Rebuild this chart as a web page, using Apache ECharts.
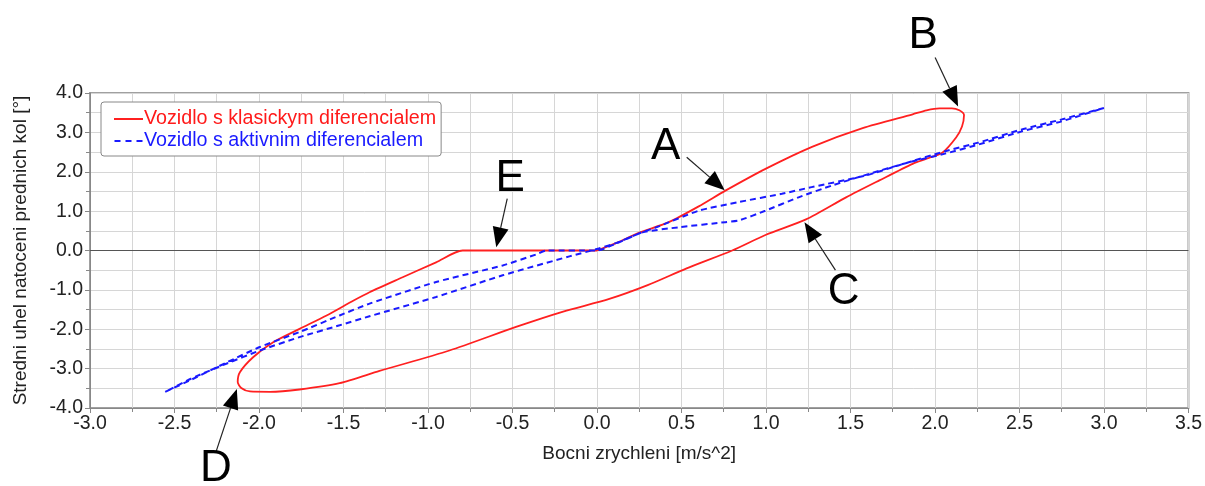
<!DOCTYPE html>
<html>
<head>
<meta charset="utf-8">
<script src="https://cdn.jsdelivr.net/npm/echarts@6/dist/echarts.min.js"></script>
<style>html,body{margin:0;padding:0;background:#fff;}#c{width:1205px;height:486px;}</style>
</head>
<body>
<div id="c"></div>
<script>
// ---- data ----
const seriesNames = ['Vozidlo s klasickym diferencialem', 'Vozidlo s aktivnim diferencialem'];
const xTitle = 'Bocni zrychleni [m/s^2]';
const yTitle = 'Stredni uhel natoceni prednich kol [°]';

const klasicky = [
  [0,0],[0.12,0.2],[0.248,0.45],[0.425,0.72],[0.602,1.12],[0.76,1.52],[1.0,2.08],[1.276,2.64],
  [1.572,3.11],[1.868,3.46],[1.95,3.56],[2.026,3.61],[2.1,3.61],[2.144,3.56],[2.172,3.44],
  [2.16,3.15],[2.125,2.87],[2.045,2.49],[1.95,2.33],[1.868,2.2],[1.671,1.78],[1.474,1.35],
  [1.237,0.79],[1.0,0.4],[0.80,0.0],[0.527,-0.46],[0.3,-0.88],[0.073,-1.23],[-0.2,-1.55],
  [-0.479,-1.94],[-0.873,-2.54],[-1.287,-3.06],[-1.523,-3.37],[-1.76,-3.53],[-1.935,-3.59],
  [-2.053,-3.58],[-2.105,-3.49],[-2.126,-3.34],[-2.113,-3.09],[-2.035,-2.71],[-1.916,-2.33],
  [-1.76,-1.99],[-1.6,-1.65],[-1.44,-1.27],[-1.346,-1.06],[-1.15,-0.68],[-0.952,-0.30],
  [-0.795,0],[-0.4,0],[0,0]
];

const aktivni = [
  [-2.555,-3.59],[-2.4,-3.28],[-2.19,-2.84],[-1.995,-2.45],[-1.76,-2.07],[-1.523,-1.65],
  [-1.346,-1.35],[-0.952,-0.80],[-0.558,-0.38],[-0.36,-0.1],[-0.3,0],[0,0],
  [0.12,0.19],[0.27,0.47],[0.346,0.58],[0.602,1.01],[0.838,1.23],[1.094,1.44],[1.27,1.61],
  [1.586,1.90],[1.783,2.16],[2.06,2.52],[2.257,2.74],[2.51,3.07],[2.75,3.33],[3.0,3.62],
  [2.75,3.28],[2.51,3.02],[2.257,2.69],[2.06,2.46],[1.864,2.26],[1.667,2.02],[1.39,1.65],
  [1.193,1.35],[0.996,1.01],[0.838,0.76],[0.76,0.72],[0.484,0.59],[0.27,0.46],[0.12,0.2],
  [0.01,0.05],[-0.163,-0.15],[-0.558,-0.63],[-0.952,-1.18],[-1.346,-1.67],[-1.523,-1.90],
  [-1.76,-2.2],[-1.995,-2.54],[-2.19,-2.87],[-2.4,-3.25],[-2.555,-3.59]
];

// annotations: letter, letter position, arrow tail, arrow tip (data coords)
const annoLetters = ['A','B','C','D','E'];
const annoLetterPos = [[0.407,2.64],[1.930,5.45],[1.459,-1.06],[-2.255,-5.55],[-0.514,1.83]];
const annoTail = [[0.531,2.37],[2.001,4.90],[1.411,-0.5],[-2.255,-5.12],[-0.531,1.32]];
const annoTip = [[0.756,1.53],[2.137,3.66],[1.228,0.72],[-2.131,-3.52],[-0.596,0.08]];

const FONT = '"Liberation Sans", Arial, sans-serif';
const chart = echarts.init(document.getElementById('c'), null, {renderer:'canvas'});

const option = {
  animation: false,
  backgroundColor: '#fff',
  grid: {left: 90, top: 93, right: 14, bottom: 78, show: true, borderColor: '#a0a0a0', borderWidth: 2, backgroundColor: 'transparent'},
  legend: {
    orient: 'vertical', left: 101, top: 102,
    backgroundColor: '#fff', borderColor: '#888', borderWidth: 1, borderRadius: 3,
    padding: [7, 5, 5, 13], itemGap: 2, itemWidth: 29, itemHeight: 2,
    data: [
      {name: seriesNames[0], icon: 'path://M0,0 H29 V2 H0 Z', textStyle: {color: '#ff1a1a'}},
      {name: seriesNames[1], icon: 'path://M0,0 H6 V2 H0 Z M11,0 H17 V2 H11 Z M22,0 H28 V2 H22 Z', textStyle: {color: '#1a1aff'}}
    ],
    textStyle: {fontFamily: FONT, fontSize: 19.7, padding: [0,0,0,-4]}
  },
  xAxis: {
    type: 'value', min: -3, max: 3.5, interval: 0.5,
    name: xTitle, nameLocation: 'middle', nameGap: 36,
    nameTextStyle: {fontFamily: FONT, fontSize: 19, color: '#222'},
    axisLine: {show: true, onZero: false, lineStyle: {color: '#888', width: 1}},
    axisTick: {show: true, length: 5, lineStyle: {color: '#888'}},
    minorTick: {show: true, splitNumber: 2, length: 4, lineStyle: {color: '#888'}},
    splitLine: {show: true, lineStyle: {color: '#d6d6d6', width: 1}},
    minorSplitLine: {show: true, lineStyle: {color: '#d6d6d6', width: 1}},
    axisLabel: {fontFamily: FONT, fontSize: 19.5, color: '#222', margin: 6, formatter: v => v.toFixed(1)}
  },
  yAxis: {
    type: 'value', min: -4, max: 4, interval: 1,
    name: yTitle, nameLocation: 'middle', nameGap: 60, nameRotate: 90,
    nameTextStyle: {fontFamily: FONT, fontSize: 19, color: '#222'},
    axisLine: {show: true, onZero: false, lineStyle: {color: '#888', width: 1}},
    axisTick: {show: true, length: 5, lineStyle: {color: '#888'}},
    minorTick: {show: true, splitNumber: 2, length: 4, lineStyle: {color: '#888'}},
    splitLine: {show: true, lineStyle: {color: '#d6d6d6', width: 1}},
    minorSplitLine: {show: true, lineStyle: {color: '#d6d6d6', width: 1}},
    axisLabel: {fontFamily: FONT, fontSize: 19.5, color: '#222', margin: 7, formatter: v => v.toFixed(1)}
  },
  series: [
    {
      name: 'zero', type: 'line', data: [], z: 1, silent: true,
      markLine: {silent: true, z: 1, symbol: 'none', label: {show: false},
        lineStyle: {color: '#555', width: 1, type: 'solid'}, data: [{yAxis: 0}]}
    },
    {
      name: seriesNames[0], type: 'line', data: klasicky, showSymbol: false, symbol: 'none',
      smooth: 0.25, z: 3,
      lineStyle: {color: '#ff2020', width: 1.8}, itemStyle: {color: '#ff2020'}
    },
    {
      name: seriesNames[1], type: 'line', data: aktivni, showSymbol: false, symbol: 'none',
      smooth: 0.2, z: 4,
      lineStyle: {color: '#1a1aff', width: 2, type: [6, 4]}, itemStyle: {color: '#1a1aff'}
    }
  ]
};
chart.setOption(option);

// annotations (letters + arrows) positioned from data coordinates
const g = [];
for (let i = 0; i < annoLetters.length; i++) {
  const lp = chart.convertToPixel({gridIndex: 0}, annoLetterPos[i]);
  const s = chart.convertToPixel({gridIndex: 0}, annoTail[i]);
  const t = chart.convertToPixel({gridIndex: 0}, annoTip[i]);
  const dx = t[0] - s[0], dy = t[1] - s[1];
  const len = Math.sqrt(dx*dx + dy*dy);
  const ux = dx/len, uy = dy/len;
  const L = 20, W = 8;
  const bx = t[0] - ux*L, by = t[1] - uy*L;
  g.push({type: 'line', z: 100, shape: {x1: s[0], y1: s[1], x2: bx, y2: by}, style: {stroke: '#222', lineWidth: 1.2}});
  g.push({type: 'polygon', z: 100, shape: {points: [[t[0], t[1]], [bx - uy*W, by + ux*W], [bx + uy*W, by - ux*W]]}, style: {fill: '#000'}});
  g.push({type: 'text', z: 100, x: lp[0], y: lp[1], style: {text: annoLetters[i], fontFamily: FONT, fontSize: 44, fill: '#000', align: 'center', verticalAlign: 'middle'}});
}
chart.setOption({graphic: g});
</script>
</body>
</html>
